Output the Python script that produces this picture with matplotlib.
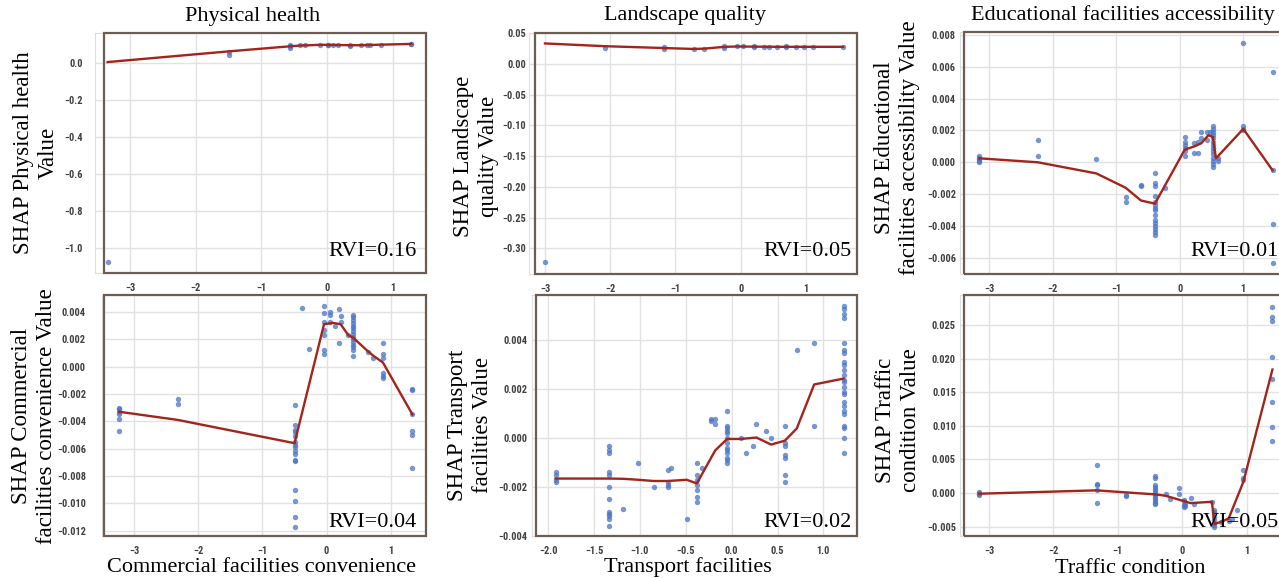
import numpy as np
import matplotlib
matplotlib.use("Agg")
import matplotlib.pyplot as plt
from matplotlib.patches import Rectangle
from matplotlib import font_manager as fm

W, H = 1279, 578
SERIF = "Liberation Serif"
DOT = "#4a74c4"
FIT = "#a3241b"
FRAME = "#6b5d54"


def narrow_tick_font():
    """Pick a narrow bold sans face for the tick labels."""
    entries = fm.fontManager.ttflist
    preferred = ["Liberation Sans Narrow", "Roboto Condensed", "Noto Sans Condensed",
                 "DejaVu Sans Condensed", "Open Sans Condensed"]
    narrow = ("condensed", "semi-condensed", "extra-condensed")

    def is_bold(e):
        w = e.weight
        return (isinstance(w, int) and w >= 600) or str(w).lower() in ("bold", "semibold", "demibold")

    for name in preferred:
        for e in entries:
            if e.name == name and is_bold(e) and e.style == "normal":
                return fm.FontProperties(fname=e.fname)
    for e in entries:
        if (str(e.stretch) in narrow and is_bold(e) and e.style == "normal"
                and "Sans" in e.name and "Mono" not in e.name and "CJK" not in e.name):
            return fm.FontProperties(fname=e.fname)
    return fm.FontProperties(family="Liberation Sans", weight="bold")


TICK_FP = narrow_tick_font()

# ---------------- Physical health ----------------
ph_x = [-3.34, -1.49, -0.57, -0.42, -0.34, -0.11, 0.01, 0.09, 0.16, 0.34,
        0.52, 0.60, 0.65, 0.82, 1.28]
ph_y = [[-1.075], [0.062, 0.042], [0.098, 0.090, 0.083], [0.095], [0.097],
        [0.098], [0.099, 0.096], [0.098], [0.098], [0.094, 0.099], [0.096],
        [0.097], [0.099], [0.098], [0.104, 0.100]]
ph_fit_x = [-3.34, -1.49, -0.57, -0.42, -0.11, 0.01, 0.16, 0.34, 0.52, 0.82, 1.28]
ph_fit_y = [0.005, 0.063, 0.090, 0.094, 0.098, 0.098, 0.097, 0.096, 0.096, 0.099, 0.103]
ph_xticks = [-3, -2, -1, 0, 1]
ph_yticks = [0.0, -0.2, -0.4, -0.6, -0.8, -1.0]

# ---------------- Landscape quality ----------------
lq_x = [-3.0, -2.08, -1.17, -0.72, -0.56, -0.25, -0.05, 0.04, 0.20, 0.35,
        0.44, 0.55, 0.69, 0.84, 0.97, 1.11, 1.57]
lq_y = [[-0.323], [0.026], [0.024, 0.027], [0.024], [0.025], [0.026, 0.029],
        [0.029], [0.029], [0.027, 0.029], [0.028], [0.028], [0.028],
        [0.027, 0.029], [0.028], [0.028], [0.028], [0.028]]
lq_fit_x = [-3.0, -2.08, -1.17, -0.72, -0.56, -0.25, -0.05, 0.55, 1.11, 1.57]
lq_fit_y = [0.0335, 0.029, 0.026, 0.0245, 0.025, 0.028, 0.0285, 0.028, 0.028, 0.028]
lq_xticks = [-3, -2, -1, 0, 1]
lq_yticks = [0.05, 0.00, -0.05, -0.10, -0.15, -0.20, -0.25, -0.30]

# ---------------- Educational facilities accessibility ----------------
ed_x = [-3.15, -2.23, -1.31, -0.85, -0.61, -0.39, -0.23, 0.08, 0.23, 0.29,
        0.34, 0.43, 0.48, 0.53, 0.61, 1.0, 1.46]
ed_y = [[0.0004, 0.0003, 0.0002, 0.0001, 0.0],
        [0.0014, 0.0004],
        [0.0002],
        [-0.0022, -0.0025],
        [-0.0014, -0.0015],
        [-0.0007, -0.0013, -0.0015, -0.0021, -0.0025, -0.0027, -0.0029, -0.0030,
         -0.0033, -0.0036, -0.0038, -0.0040, -0.0042, -0.0044, -0.0046],
        [-0.0016],
        [0.0016, 0.0013, 0.0011, 0.0009, 0.0007, 0.0004],
        [0.0012, 0.0006],
        [0.0013, 0.0006],
        [0.0019, 0.0015],
        [0.0019, 0.0014],
        [0.0019],
        [0.0023, 0.0021, 0.0019, 0.0017, 0.0015, 0.0013, 0.0011, 0.0009, 0.0007,
         0.0005, 0.0003, 0.0001, -0.0001, -0.0003],
        [0.0003, 0.0001],
        [0.0075, 0.0023, 0.0021, 0.0020],
        [0.0057, -0.0005, -0.0039, -0.0063]]
ed_fit_x = [-3.15, -2.23, -1.31, -0.85, -0.61, -0.39, 0.08, 0.23, 0.34, 0.45, 0.52, 0.57, 1.0, 1.46]
ed_fit_y = [0.00025, 0.0, -0.0007, -0.0016, -0.0024, -0.0026, 0.0008, 0.0010, 0.0012,
            0.0017, 0.0016, 0.00025, 0.0021, -0.0005]
ed_xticks = [-3, -2, -1, 0, 1]
ed_yticks = [0.008, 0.006, 0.004, 0.002, 0.000, -0.002, -0.004, -0.006]

# ---------------- Commercial facilities convenience ----------------
cm_x = [-3.24, -2.32, -0.50, -0.38, -0.27, -0.04, 0.06, 0.13, 0.19, 0.22,
        0.34, 0.42, 0.65, 0.73, 0.88, 1.34]
cm_y = [[-0.0030, -0.0031, -0.0033, -0.0035, -0.0038, -0.0047],
        [-0.0024, -0.0027],
        [-0.0028, -0.0043, -0.0046, -0.0048, -0.0051, -0.0055, -0.0057, -0.0059,
         -0.0062, -0.0064, -0.0068, -0.0069, -0.0090, -0.0098, -0.0110, -0.0117],
        [0.0043],
        [0.0013],
        [0.0044, 0.0039, 0.0033, 0.0027, 0.0023, 0.0012, 0.0009],
        [0.0040, 0.0038, 0.0033],
        [0.0030],
        [0.0042, 0.0017],
        [0.0037, 0.0033],
        [0.0023],
        [0.0038, 0.0036, 0.0034, 0.0032, 0.0030, 0.0028, 0.0026, 0.0024, 0.0022,
         0.0020, 0.0018, 0.0016, 0.0014, 0.0012, 0.0008],
        [0.0011],
        [0.0006],
        [0.0017, 0.0009, 0.0006, -0.0005, -0.0007, -0.0008],
        [-0.0016, -0.0017, -0.0035, -0.0047, -0.0050, -0.0074]]
cm_fit_x = [-3.24, -2.32, -0.50, -0.04, 0.10, 0.22, 0.34, 0.42, 0.65, 0.73, 0.88, 1.34]
cm_fit_y = [-0.0033, -0.0039, -0.0056, 0.0031, 0.0032, 0.0031, 0.0023, 0.0021,
            0.0011, 0.0008, 0.0003, -0.0035]
cm_xticks = [-3, -2, -1, 0, 1]
cm_yticks = [0.004, 0.002, 0.000, -0.002, -0.004, -0.006, -0.008, -0.010, -0.012]

# ---------------- Transport facilities ----------------
tr_x = [-1.92, -1.34, -1.18, -1.02, -0.85, -0.70, -0.66, -0.49, -0.38, -0.32,
        -0.23, -0.18, -0.05, 0.10, 0.16, 0.23, 0.27, 0.37, 0.43, 0.58, 0.71,
        0.90, 1.22]
tr_y = [[-0.0014, -0.0015, -0.0017, -0.0018],
        [-0.0003, -0.0005, -0.0006, -0.0014, -0.0015, -0.0020, -0.0025, -0.0030,
         -0.0031, -0.0032, -0.0033, -0.0036],
        [-0.0029],
        [-0.0010],
        [-0.0020],
        [-0.0013, -0.0018, -0.0019, -0.0020],
        [-0.0012],
        [-0.0033],
        [-0.0010, -0.0015, -0.0017, -0.0019, -0.0021, -0.0024, -0.0026],
        [-0.0012],
        [0.0008, 0.0007],
        [0.0008, 0.0006],
        [0.0011, 0.0005, 0.0004, 0.0003, 0.0002, 0.0, -0.0002, -0.0004, -0.0005,
         -0.0006, -0.0008, -0.0009, -0.0010],
        [0.0],
        [-0.0006],
        [-0.0003],
        [0.0006],
        [0.0003],
        [0.0],
        [0.0005, -0.0002, -0.0003, -0.0007, -0.0008, -0.0015, -0.0018],
        [0.0036],
        [0.0039, 0.0005],
        [0.0054, 0.0053, 0.0051, 0.0049, 0.0039, 0.0036, 0.0035, 0.0031, 0.0030,
         0.0028, 0.0026, 0.0024, 0.0023, 0.0021, 0.0019, 0.0018, 0.0015, 0.0013,
         0.0011, 0.0010, 0.0005, 0.0004, 0.0, -0.0006]]
tr_fit_x = [-1.92, -1.34, -1.18, -1.02, -0.85, -0.70, -0.49, -0.38, -0.18, -0.05,
            0.10, 0.27, 0.43, 0.58, 0.71, 0.90, 1.22]
tr_fit_y = [-0.00165, -0.00165, -0.00166, -0.0017, -0.00175, -0.00175, -0.0017,
            -0.00185, -0.0005, -0.00003, -0.00003, 0.00003, -0.00026, -0.0001,
            0.0004, 0.0022, 0.00244]
tr_xticks = [-2.0, -1.5, -1.0, -0.5, 0.0, 0.5, 1.0]
tr_yticks = [0.004, 0.002, 0.000, -0.002, -0.004]

# ---------------- Traffic condition ----------------
tf_x = [-3.15, -1.33, -0.88, -0.42, -0.26, -0.19, -0.05, 0.02, 0.05, 0.13,
        0.19, 0.46, 0.50, 0.60, 0.72, 0.78, 0.85, 0.95, 1.40]
tf_y = [[0.0001, 0.0, -0.0001, -0.0003],
        [0.0042, 0.0014, 0.0012, 0.0004, -0.0015],
        [-0.0003, -0.0005],
        [0.0025, 0.0022, 0.0012, 0.0009, 0.0006, 0.0003, 0.0, -0.0003, -0.0006,
         -0.0009, -0.0012, -0.0015, -0.0017],
        [-0.0002],
        [-0.0009],
        [0.0008, -0.0002],
        [-0.0010, -0.0012, -0.0018, -0.0021],
        [-0.0016, -0.0019],
        [-0.0008],
        [-0.0017],
        [-0.0013],
        [-0.0025, -0.0028, -0.0031, -0.0035, -0.0040, -0.0045, -0.0048, -0.0050],
        [-0.0043],
        [-0.0041],
        [-0.0038],
        [-0.0025],
        [0.0035, 0.0022, 0.0019],
        [0.0277, 0.0262, 0.0256, 0.0203, 0.0170, 0.0135, 0.0099, 0.0077]]
tf_fit_x = [-3.15, -1.33, -0.88, -0.42, -0.26, 0.13, 0.46, 0.50, 0.60, 0.72, 0.95, 1.40]
tf_fit_y = [-0.0001, 0.0004, 0.0001, -0.0002, -0.0004, -0.0015, -0.0013, -0.0046,
            -0.0043, -0.0038, 0.0017, 0.0184]
tf_xticks = [-3, -2, -1, 0, 1]
tf_yticks = [0.025, 0.020, 0.015, 0.010, 0.005, 0.000, -0.005]

titles = ["Physical health", "Landscape quality", "Educational facilities accessibility",
          None, None, None]
ylabels = ["SHAP Physical health\nValue", "SHAP Landscape\nquality Value",
           "SHAP Educational\nfacilities accessibility Value",
           "SHAP Commercial\nfacilities convenience Value",
           "SHAP Transport\nfacilities Value", "SHAP Traffic\ncondition Value"]
xlabels = [None, None, None, "Commercial facilities convenience",
           "Transport facilities", "Traffic condition"]
rvi = ["RVI=0.16", "RVI=0.05", "RVI=0.01", "RVI=0.04", "RVI=0.02", "RVI=0.05"]

panels = [
    (ph_x, ph_y, ph_fit_x, ph_fit_y, ph_xticks, ph_yticks),
    (lq_x, lq_y, lq_fit_x, lq_fit_y, lq_xticks, lq_yticks),
    (ed_x, ed_y, ed_fit_x, ed_fit_y, ed_xticks, ed_yticks),
    (cm_x, cm_y, cm_fit_x, cm_fit_y, cm_xticks, cm_yticks),
    (tr_x, tr_y, tr_fit_x, tr_fit_y, tr_xticks, tr_yticks),
    (tf_x, tf_y, tf_fit_x, tf_fit_y, tf_xticks, tf_yticks),
]

# layout in pixels: plot area (left, top, right, bottom), frame left edge,
# x/y limits, y tick gap, y-label centre, title centre, RVI anchor
layout = [
    dict(area=(95, 33, 426, 273), frame_left=104, xlim=(-3.532, 1.502), ylim=(-1.135, 0.162),
         ypad=12, ylab=(36, 153), title=(253, 29), rvi=(328, 256.5)),
    dict(area=(529, 33, 857, 274), frame_left=535, xlim=(-3.245, 1.782), ylim=(-0.342, 0.0505),
         ypad=3, ylab=(476, 156), title=(685, 28), rvi=(763, 256)),
    dict(area=(960, 32, 1285, 274), frame_left=964, xlim=(-3.456, 1.656), ylim=(-0.00702, 0.00819),
         ypad=4, ylab=(897, 148), title=(1123, 28), rvi=(1190, 256)),
    dict(area=(102, 295, 426, 536), frame_left=104, xlim=(-3.505, 1.552), ylim=(-0.01239, 0.00524),
         ypad=16, ylab=(34, 416), xlab=(262, 572), rvi=(328, 527)),
    dict(area=(532, 295, 857, 536), frame_left=536, xlim=(-2.178, 1.367), ylim=(-0.00399, 0.00586),
         ypad=5, ylab=(470, 425), xlab=(688, 572), rvi=(763, 527)),
    dict(area=(960, 295, 1285, 536), frame_left=964, xlim=(-3.45, 1.595), ylim=(-0.0064, 0.0295),
         ypad=4, ylab=(898, 420), xlab=(1130, 573), rvi=(1190, 527)),
]

fig = plt.figure(figsize=(W / 100, H / 100), dpi=100)
fig.patch.set_facecolor("white")


def px_to_axes(ax_rect, px, py):
    l, t, r, b = ax_rect
    return (px - l) / (r - l), (b - py) / (b - t)


def fmt(v, dec):
    s = f"{v:.{dec}f}"
    if float(s) == 0:
        return f"{0:.{dec}f}"
    return s.replace("-", "\u2212")


for i, (data, lay) in enumerate(zip(panels, layout)):
    xs, ys, fx, fy, xt, yt = data
    l, t, r, b = lay["area"]
    ax = fig.add_axes([l / W, 1 - b / H, (r - l) / W, (b - t) / H])
    ax.set_facecolor("white")
    for sp in ax.spines.values():
        sp.set_color("#dedede")
        sp.set_linewidth(0.8)
    ax.grid(True, color="#e2e2e2", linewidth=1.0)
    ax.set_axisbelow(True)

    px = np.concatenate([np.full(len(g), x) for x, g in zip(xs, ys)])
    py = np.concatenate([np.asarray(g, dtype=float) for g in ys])
    ax.scatter(px, py, s=15, color=DOT, alpha=0.75, linewidths=0, zorder=3)
    ax.plot(fx, fy, color=FIT, linewidth=1.7, zorder=4)

    ax.set_xlim(*lay["xlim"])
    ax.set_ylim(*lay["ylim"])
    ax.set_xticks(xt)
    ax.set_yticks(yt)
    xdec = 1 if i == 4 else 0
    ydec = {0: 1, 1: 2}.get(i, 3)
    ax.set_xticklabels([fmt(v, xdec) for v in xt])
    ax.set_yticklabels([fmt(v, ydec) for v in yt])
    ax.tick_params(axis="both", length=0, labelcolor="#404040")
    ax.tick_params(axis="y", pad=lay["ypad"] * 0.72)
    ax.tick_params(axis="x", pad=7)
    for lab in ax.get_xticklabels() + ax.get_yticklabels():
        lab.set_fontproperties(TICK_FP)
        lab.set_fontsize(7.5)

    # outer frame
    fl = lay["frame_left"]
    fig.add_artist(Rectangle((fl / W, 1 - b / H), (r - fl) / W, (b - t) / H,
                             transform=fig.transFigure, fill=False,
                             edgecolor=FRAME, linewidth=1.6, zorder=5))

    ax.set_ylabel(ylabels[i], family=SERIF, fontsize=16.5, linespacing=1.25,
                  va="center", ha="center", color="black")
    ax.yaxis.set_label_coords(*px_to_axes(lay["area"], *lay["ylab"]))

    if titles[i]:
        tx, ty = px_to_axes(lay["area"], *lay["title"])
        ax.set_title(titles[i], family=SERIF, fontsize=16, x=tx, y=ty,
                     va="baseline", color="black")
    if xlabels[i]:
        ax.set_xlabel(xlabels[i], family=SERIF, fontsize=16, va="baseline",
                      color="black")
        ax.xaxis.set_label_coords(*px_to_axes(lay["area"], *lay["xlab"]))

    rx, ry = px_to_axes(lay["area"], *lay["rvi"])
    ax.text(rx, ry, rvi[i], transform=ax.transAxes, family=SERIF, fontsize=16,
            ha="left", va="baseline", color="black", zorder=6)

fig.savefig("out.png", dpi=100, facecolor="white")
